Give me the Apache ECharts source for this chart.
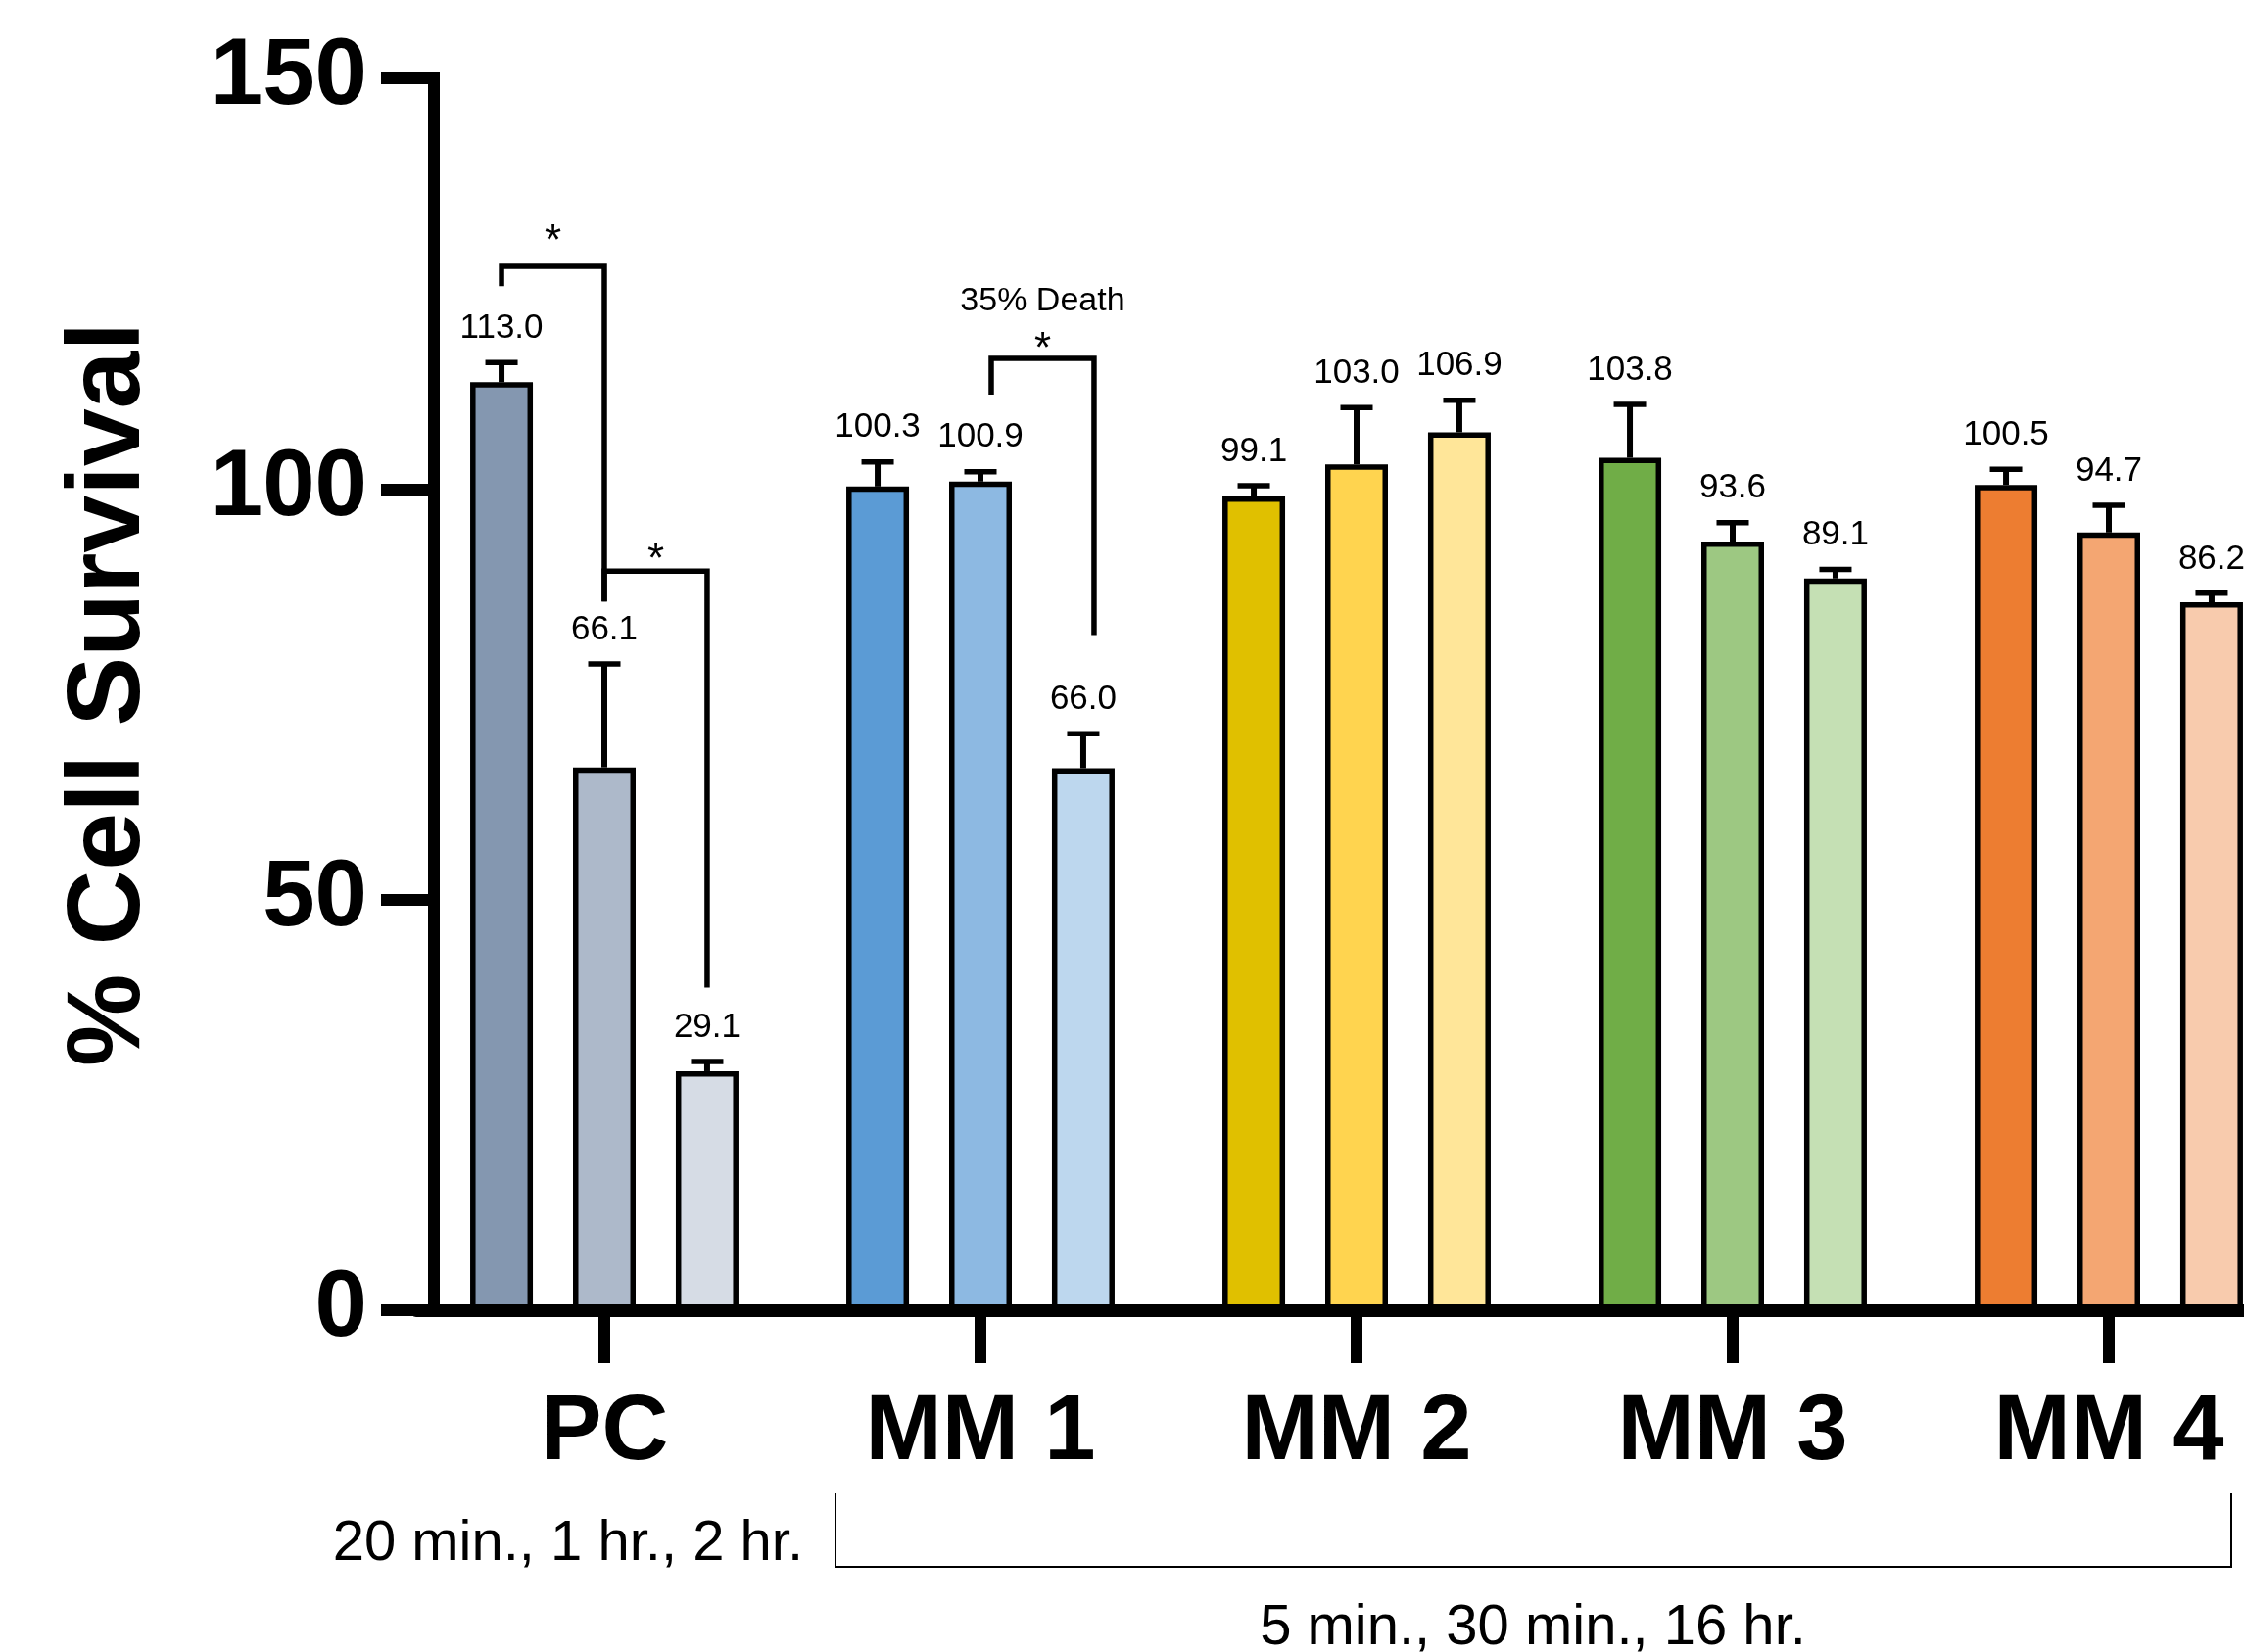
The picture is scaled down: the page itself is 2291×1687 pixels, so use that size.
<!DOCTYPE html>
<html><head><meta charset="utf-8">
<script src="https://cdn.jsdelivr.net/npm/echarts@6/dist/echarts.min.js"></script>
<style>html,body{margin:0;padding:0;background:#fff}#c{width:2291px;height:1687px}</style>
</head><body><div id="c"></div>
<script>
// ---------- data ----------
const categories = ['PC', 'MM 1', 'MM 2', 'MM 3', 'MM 4'];
const survivalT1 = [113.0, 100.3, 99.1, 103.8, 100.5];
const survivalT2 = [66.1, 100.9, 103.0, 93.6, 94.7];
const survivalT3 = [29.1, 66.0, 106.9, 89.1, 86.2];
const errorT1 = [2.4, 3.0, 1.3, 6.5, 1.9];
const errorT2 = [12.6, 1.2, 6.9, 2.3, 3.3];
const errorT3 = [1.2, 4.2, 3.9, 1.1, 1.1];
const yTicks = [0, 50, 100, 150];
// significance brackets (category, from bar, to bar, values)
const bracketCategory = [0, 0, 1];
const bracketFromBar = [0, 1, 1];
const bracketToBar = [1, 2, 2];
const bracketTop = [127.1, 90.0, 115.9];
const bracketLeftEnd = [124.7, 86.3, 111.5];
const bracketRightEnd = [86.3, 39.3, 82.2];
// annotation texts
const annotationText = ['*', '*', '*', '35% Death'];
const annotationCategory = [0, 0, 1, 1];
const annotationBarPos = [0.5, 1.5, 1.5, 1.5];
const annotationValue = [131.1, 92.4, 118.0, 122.8];
const groupLabelPC = '20 min., 1 hr., 2 hr.';
const groupLabelMM = '5 min., 30 min., 16 hr.';
const yAxisTitle = '% Cell Survival';

// ---------- style ----------
const FONT = '"Liberation Sans", Arial, Helvetica, sans-serif';
const barColors = [
  ['#8497B0', '#ADB9CA', '#D6DCE5'],
  ['#5B9BD5', '#8DB9E2', '#BDD7EE'],
  ['#E0C000', '#FFD44F', '#FFE699'],
  ['#70AD47', '#9DC882', '#C5E0B4'],
  ['#ED7D31', '#F4A672', '#F8CBAD']
];
const BAR_W = 64, BAR_GAP = 0.64;
const PITCH = BAR_W * (1 + BAR_GAP);
const bracketShiftPx = [0, 0, 11];
const annotationShiftPx = [0, 0, 11, 11];
const annotationFont = [44, 44, 44, 34];
const VALUE_FONT = 35;

const survival = [survivalT1, survivalT2, survivalT3];
const errors = [errorT1, errorT2, errorT3];

const barSeries = survival.map((vals, s) => ({
  type: 'bar',
  barWidth: BAR_W,
  barGap: (BAR_GAP * 100) + '%',
  data: vals.map((v, i) => ({ value: v, itemStyle: { color: barColors[i][s] } })),
  itemStyle: { borderColor: '#000', borderWidth: 5.5 },
  z: 2
}));

const errData = [];
survival.forEach((vals, s) => vals.forEach((v, i) => errData.push([i, s, v, errors[s][i]])));

const errSeries = {
  type: 'custom',
  data: errData,
  encode: { x: 0, y: 2 },
  z: 3,
  clip: false,
  renderItem: function (params, api) {
    const cat = api.value(0), s = api.value(1), v = api.value(2), e = api.value(3);
    const cx = api.coord([cat, 0])[0] + (s - 1) * PITCH;
    const yb = api.coord([cat, v])[1];
    const yt = api.coord([cat, v + e])[1];
    return {
      type: 'group', children: [
        { type: 'line', shape: { x1: cx, y1: yb, x2: cx, y2: yt }, style: { stroke: '#000', lineWidth: 6 } },
        { type: 'line', shape: { x1: cx - 16.5, y1: yt, x2: cx + 16.5, y2: yt }, style: { stroke: '#000', lineWidth: 5.5 } },
        { type: 'text', style: { x: cx, y: yt - 35, text: v.toFixed(1), fill: '#000', font: VALUE_FONT + 'px ' + FONT, align: 'center', verticalAlign: 'middle' } }
      ]
    };
  }
};

const bracketData = bracketCategory.map((c, i) => [c, bracketFromBar[i], bracketToBar[i], bracketTop[i], bracketLeftEnd[i], bracketRightEnd[i], i]);
const bracketSeries = {
  type: 'custom',
  data: bracketData,
  encode: { x: 0, y: 3 },
  z: 4,
  clip: false,
  renderItem: function (params, api) {
    const c = api.value(0), f = api.value(1), t = api.value(2);
    const top = api.value(3), le = api.value(4), re = api.value(5), i = api.value(6);
    const base = api.coord([c, 0])[0];
    const xl = base + (f - 1) * PITCH + bracketShiftPx[i];
    const xr = base + (t - 1) * PITCH + bracketShiftPx[i];
    const yt = api.coord([c, top])[1], yl = api.coord([c, le])[1], yr = api.coord([c, re])[1];
    return {
      type: 'polyline',
      shape: { points: [[xl, yl], [xl, yt], [xr, yt], [xr, yr]] },
      style: { stroke: '#000', lineWidth: 5.5, fill: null, lineJoin: 'miter' }
    };
  }
};

const annData = annotationText.map((t, i) => [annotationCategory[i], annotationBarPos[i], annotationValue[i], i]);
const annSeries = {
  type: 'custom',
  data: annData,
  encode: { x: 0, y: 2 },
  z: 4,
  clip: false,
  renderItem: function (params, api) {
    const c = api.value(0), bp = api.value(1), v = api.value(2), i = api.value(3);
    const x = api.coord([c, 0])[0] + (bp - 1) * PITCH + annotationShiftPx[i];
    const fs = annotationFont[i];
    const isStar = annotationText[i] === '*';
    const y = api.coord([c, v])[1] + (isStar ? fs * 0.22 : 0);
    return {
      type: 'text',
      style: { x: x, y: y, text: annotationText[i], fill: '#000', font: fs + 'px ' + FONT, align: 'center', verticalAlign: 'middle' }
    };
  }
};

const chart = echarts.init(document.getElementById('c'), null, { renderer: 'canvas' });
chart.setOption({
  animation: false,
  backgroundColor: '#fff',
  grid: { left: 425, top: 80, width: 1920, height: 1258, outerBoundsMode: 'none', containLabel: false },
  xAxis: {
    type: 'category',
    data: categories,
    boundaryGap: true,
    z: 10,
    axisLine: { show: true, lineStyle: { color: '#000', width: 13 } },
    axisTick: { show: true, alignWithLabel: true, interval: 0, length: 54, lineStyle: { color: '#000', width: 12 } },
    axisLabel: { interval: 0, margin: 79, color: '#000', fontSize: 94, fontWeight: 'bold', fontFamily: FONT }
  },
  yAxis: {
    type: 'value',
    min: yTicks[0],
    max: yTicks[yTicks.length - 1],
    interval: yTicks[1] - yTicks[0],
    offset: -18,
    z: 10,
    splitLine: { show: false },
    axisLine: { show: true, lineStyle: { color: '#000', width: 12, cap: 'square' } },
    axisTick: { show: true, length: 54, lineStyle: { color: '#000', width: 12 } },
    axisLabel: { margin: 68, color: '#000', fontSize: 96, fontWeight: 'bold', fontFamily: FONT },
    name: yAxisTitle,
    nameLocation: 'middle',
    nameRotate: 90,
    nameGap: 277,
    nameTextStyle: { color: '#000', fontSize: 106, fontWeight: 'bold', fontFamily: FONT }
  },
  series: [...barSeries, errSeries, bracketSeries, annSeries],
  graphic: [
    { type: 'text', x: 820, y: 1577, style: { text: groupLabelPC, fill: '#000', font: '58px ' + FONT, align: 'right', verticalAlign: 'middle' } },
    { type: 'text', x: 1565, y: 1663, style: { text: groupLabelMM, fill: '#000', font: '58px ' + FONT, align: 'center', verticalAlign: 'middle' } },
    { type: 'polyline', shape: { points: [[853, 1525], [853, 1600], [2278, 1600], [2278, 1525]] }, style: { stroke: '#000', lineWidth: 2, fill: null } }
  ]
});
</script>
</body></html>
